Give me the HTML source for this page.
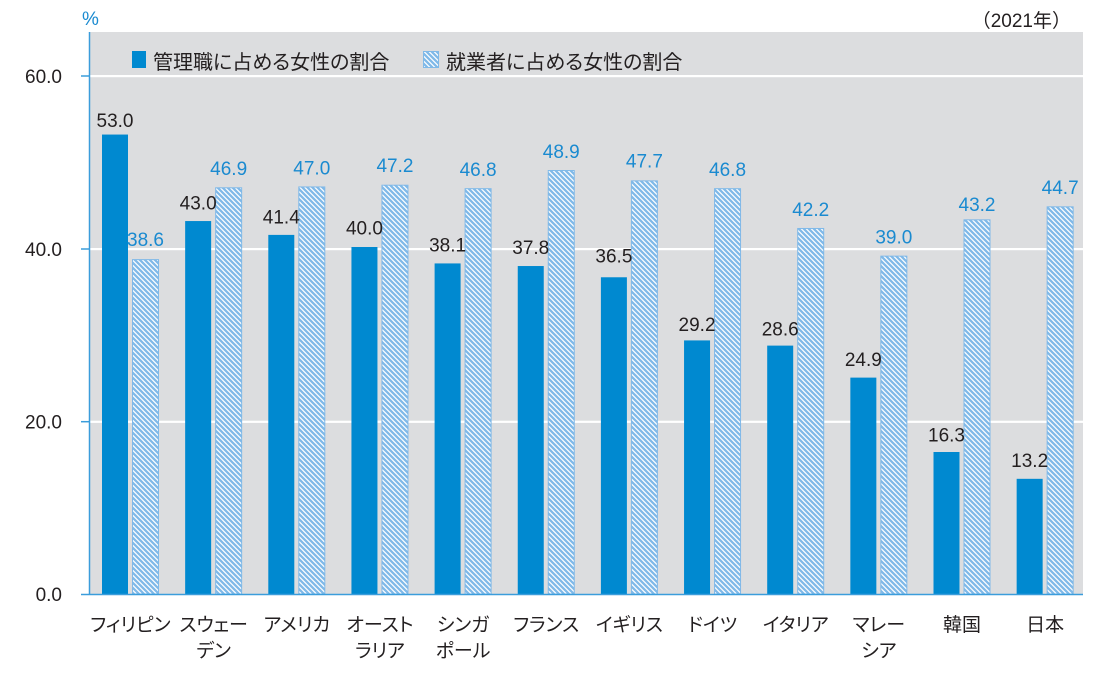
<!DOCTYPE html>
<html><head><meta charset="utf-8"><style>
html,body{margin:0;padding:0;background:#fff;}
svg{display:block;}
text{font-family:"Liberation Sans","Noto Sans CJK JP",sans-serif;}
.jp{font-family:"Noto Sans CJK JP","Liberation Sans",sans-serif;font-feature-settings:"palt";}
.jpf{font-family:"Liberation Sans","Noto Sans CJK JP",sans-serif;}
</style></head><body>
<svg width="1116" height="684" viewBox="0 0 1116 684" xmlns="http://www.w3.org/2000/svg">
<defs>
<pattern id="h" patternUnits="userSpaceOnUse" width="5" height="5">
<rect width="5" height="5" fill="#ffffff"/>
<path d="M-1,-1 L6,6 M-1,4 L1,6 M4,-1 L6,1" stroke="#80b9e8" stroke-width="2.3"/>
</pattern>
</defs>
<rect x="89" y="32" width="994" height="562" fill="#dcdddf"/>
<g fill="#ffffff">
<rect x="89" y="75" width="994" height="2.2"/>
<rect x="89" y="248" width="994" height="2.2"/>
<rect x="89" y="420.7" width="994" height="2.2"/>
</g>
<g fill="#0089d0">
<rect x="102" y="134.55" width="26" height="459.45"/>
<rect x="185.15" y="221.05" width="26" height="372.95"/>
<rect x="268.3" y="234.89" width="26" height="359.11"/>
<rect x="351.45" y="247" width="26" height="347"/>
<rect x="434.6" y="263.43" width="26" height="330.57"/>
<rect x="517.75" y="266.03" width="26" height="327.97"/>
<rect x="600.9" y="277.27" width="26" height="316.73"/>
<rect x="684.05" y="340.42" width="26" height="253.58"/>
<rect x="767.2" y="345.61" width="26" height="248.39"/>
<rect x="850.35" y="377.61" width="26" height="216.39"/>
<rect x="933.5" y="452" width="26" height="142"/>
<rect x="1016.65" y="478.82" width="26" height="115.18"/>
</g>
<g fill="url(#h)" stroke="#80b9e8" stroke-width="1">
<rect x="132.5" y="259.61" width="26" height="334.39"/>
<rect x="215.65" y="187.81" width="26" height="406.19"/>
<rect x="298.8" y="186.95" width="26" height="407.05"/>
<rect x="381.95" y="185.22" width="26" height="408.78"/>
<rect x="465.1" y="188.68" width="26" height="405.32"/>
<rect x="548.25" y="170.51" width="26" height="423.49"/>
<rect x="631.4" y="180.89" width="26" height="413.11"/>
<rect x="714.55" y="188.68" width="26" height="405.32"/>
<rect x="797.7" y="228.47" width="26" height="365.53"/>
<rect x="880.85" y="256.15" width="26" height="337.85"/>
<rect x="964" y="219.82" width="26" height="374.18"/>
<rect x="1047.15" y="206.84" width="26" height="387.16"/>
</g>
<g stroke="#3b9ddb" stroke-width="1.5">
<line x1="89.5" y1="32" x2="89.5" y2="595"/>
<line x1="81" y1="594.5" x2="1083" y2="594.5"/>
<line x1="81" y1="76" x2="89" y2="76"/>
<line x1="81" y1="249" x2="89" y2="249"/>
<line x1="81" y1="421.7" x2="89" y2="421.7"/>
</g>
<g font-size="19" fill="#231f20" text-anchor="end">
<text x="62" y="83">60.0</text>
<text x="62" y="256">40.0</text>
<text x="62" y="428.5">20.0</text>
<text x="62" y="601">0.0</text>
</g>
<text x="82" y="25" font-size="19" fill="#1a8ad0">%</text>
<text x="1071" y="27" font-size="19" fill="#231f20" text-anchor="end" class="jpf">（2021年）</text>
<rect x="132" y="51" width="14" height="17" fill="#0089d0"/>
<text x="153" y="69" font-size="20" fill="#231f20" class="jp">管理職に占める女性の割合</text>
<rect x="423.5" y="51.5" width="15" height="16" fill="url(#h)" stroke="#80b9e8" stroke-width="1"/>
<text x="446" y="69" font-size="20" fill="#231f20" class="jp">就業者に占める女性の割合</text>
<g font-size="19" fill="#231f20" text-anchor="middle">
<text x="115" y="127">53.0</text>
<text x="198.15" y="209.3">43.0</text>
<text x="281.3" y="223.3">41.4</text>
<text x="364.45" y="234.3">40.0</text>
<text x="447.6" y="251.7">38.1</text>
<text x="530.75" y="254">37.8</text>
<text x="613.9" y="262.7">36.5</text>
<text x="697.05" y="331">29.2</text>
<text x="780.2" y="335.7">28.6</text>
<text x="863.35" y="366">24.9</text>
<text x="946.5" y="441.7">16.3</text>
<text x="1029.65" y="467">13.2</text>
</g>
<g font-size="19" fill="#1a8ad0" text-anchor="middle">
<text x="145.5" y="246">38.6</text>
<text x="228.65" y="175">46.9</text>
<text x="311.8" y="174.5">47.0</text>
<text x="394.95" y="172">47.2</text>
<text x="478.1" y="176">46.8</text>
<text x="561.25" y="158">48.9</text>
<text x="644.4" y="167.7">47.7</text>
<text x="727.55" y="176">46.8</text>
<text x="810.7" y="216">42.2</text>
<text x="893.85" y="243.6">39.0</text>
<text x="977" y="211">43.2</text>
<text x="1060.15" y="194">44.7</text>
</g>
<g font-size="19" fill="#231f20" text-anchor="middle" class="jp">
<text x="130.5" y="631">フィリピン</text>
<text x="213.65" y="631">スウェー</text>
<text x="213.65" y="657">デン</text>
<text x="296.8" y="631">アメリカ</text>
<text x="379.95" y="631">オースト</text>
<text x="379.95" y="657">ラリア</text>
<text x="463.1" y="631">シンガ</text>
<text x="463.1" y="657">ポール</text>
<text x="546.25" y="631">フランス</text>
<text x="629.4" y="631">イギリス</text>
<text x="712.55" y="631">ドイツ</text>
<text x="795.7" y="631">イタリア</text>
<text x="878.85" y="631">マレー</text>
<text x="878.85" y="657">シア</text>
<text x="962" y="631">韓国</text>
<text x="1045.15" y="631">日本</text>
</g>
</svg>
</body></html>
